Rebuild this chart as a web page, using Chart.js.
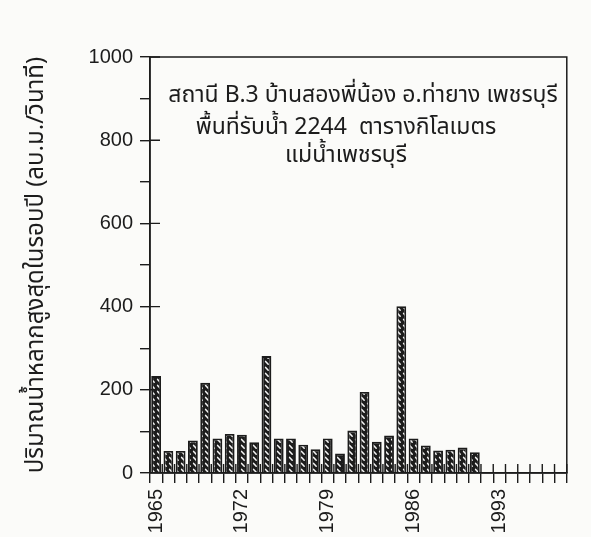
<!DOCTYPE html>
<html>
<head>
<meta charset="utf-8">
<script src="https://cdn.jsdelivr.net/npm/chart.js@4"></script>
<style>
  html, body { margin: 0; padding: 0; background: #fbfbf9; }
  #c { display: block; }
</style>
</head>
<body>
<canvas id="c" width="591" height="537"></canvas>
<script>
// Annual peak flow, station B.3 (Ban Song Phi Nong, Phetchaburi river)
const years = [];
for (let y = 1965; y <= 1998; y++) years.push(String(y));

const peakFlow = [
  233, 53, 53, 78, 217, 83, 94, 92, 74, 281,
  83, 83, 68, 57, 83, 47, 102, 195, 75, 90,
  401, 83, 66, 54, 56, 61, 50
];

const labeledYears = ['1965', '1972', '1979', '1986', '1993'];
const yTickValues = [0, 200, 400, 600, 800, 1000];

const titleLines = [
  'สถานี B.3 บ้านสองพี่น้อง อ.ท่ายาง เพชรบุรี',
  'พื้นที่รับน้ำ 2244  ตารางกิโลเมตร',
  'แม่น้ำเพชรบุรี'
];
const yTitle = 'ปริมาณน้ำหลากสูงสุดในรอบปี (ลบ.ม./วินาที)';

const INK = '#1c1c1c';
const THAI = '"Noto Sans Thai", "Noto Sans Thai UI", "Noto Sans", "DejaVu Sans", sans-serif';
const NUM = '"Liberation Sans", Arial, sans-serif';

// hatch fill for the bars
function makeHatch() {
  const t = document.createElement('canvas');
  t.width = 6; t.height = 6;
  const g = t.getContext('2d');
  g.fillStyle = INK;
  g.fillRect(0, 0, 6, 6);
  g.strokeStyle = '#f4f4f4';
  g.lineWidth = 1.5;
  g.lineCap = 'round';
  g.beginPath();
  g.moveTo(1.6, 1.4);
  g.lineTo(4.2, 4.3);
  g.stroke();
  return g.createPattern(t, 'repeat');
}

const ctx = document.getElementById('c').getContext('2d');

// frame box, crossing ticks and the station caption
const framePlugin = {
  id: 'frame',
  beforeDatasetsDraw(chart) {
    const { ctx, chartArea: a, scales } = chart;
    ctx.save();
    ctx.strokeStyle = INK;
    ctx.lineWidth = 1.4;
    // x ticks reaching up into the plot
    const xs = scales.x;
    const step = xs.getPixelForValue(1) - xs.getPixelForValue(0);
    ctx.beginPath();
    for (let i = 0; i <= years.length; i++) {
      const px = i < years.length ? xs.getPixelForValue(i) - step / 2 : a.right;
      ctx.moveTo(px, a.bottom);
      ctx.lineTo(px, a.bottom - 9);
    }
    // major y ticks reaching into the plot
    const ys = scales.y;
    yTickValues.forEach(v => {
      if (v === 0) return;
      const py = ys.getPixelForValue(v);
      ctx.moveTo(a.left, py);
      ctx.lineTo(a.left + 10, py);
    });
    ctx.stroke();
    ctx.restore();
  },
  afterDraw(chart) {
    const { ctx, chartArea: a } = chart;
    ctx.save();
    ctx.strokeStyle = INK;
    ctx.lineWidth = 1.5;
    ctx.strokeRect(a.left, a.top, a.right - a.left, a.bottom - a.top);
    ctx.fillStyle = INK;
    ctx.textAlign = 'center';
    ctx.textBaseline = 'alphabetic';
    ctx.font = '23px ' + THAI;
    ctx.fillText(titleLines[0], 363, a.top + 45);
    ctx.fillText(titleLines[1], 346, a.top + 77);
    ctx.fillText(titleLines[2], 346, a.top + 105);
    ctx.restore();
  }
};

new Chart(ctx, {
  type: 'bar',
  data: {
    labels: years,
    datasets: [{
      data: peakFlow,
      backgroundColor: makeHatch(),
      borderColor: INK,
      borderWidth: 1.9,
      barPercentage: 0.8,
      categoryPercentage: 1.0
    }]
  },
  options: {
    responsive: false,
    animation: false,
    layout: { padding: { top: 57, right: 23, left: 0, bottom: 0 } },
    plugins: { legend: { display: false }, tooltip: { enabled: false } },
    scales: {
      x: {
        offset: true,
        grid: { offset: true, drawOnChartArea: false, drawTicks: true, tickLength: 10, color: INK, lineWidth: 1.4 },
        border: { display: true, color: INK, width: 1.5 },
        ticks: {
          autoSkip: false,
          minRotation: 90,
          maxRotation: 90,
          padding: 6,
          color: INK,
          font: { family: NUM, size: 20 },
          callback(v) {
            const lab = years[v];
            return labeledYears.includes(lab) ? lab : '';
          }
        },
        afterFit(s) { s.height = 64; }
      },
      y: {
        min: 0,
        max: 1000,
        grid: { drawOnChartArea: false, drawTicks: true, tickLength: 10, color: INK, lineWidth: 1.4 },
        border: { display: true, color: INK, width: 1.5 },
        ticks: {
          stepSize: 100,
          padding: 7,
          color: INK,
          font: { family: NUM, size: 20 },
          callback(v) { return yTickValues.includes(v) ? String(v) : ''; }
        },
        title: {
          display: true,
          text: yTitle,
          color: INK,
          font: { family: THAI, size: 24 },
          padding: { top: 24, bottom: 0 }
        },
        afterFit(s) { s.width = 150; }
      }
    }
  },
  plugins: [framePlugin]
});
</script>
</body>
</html>
